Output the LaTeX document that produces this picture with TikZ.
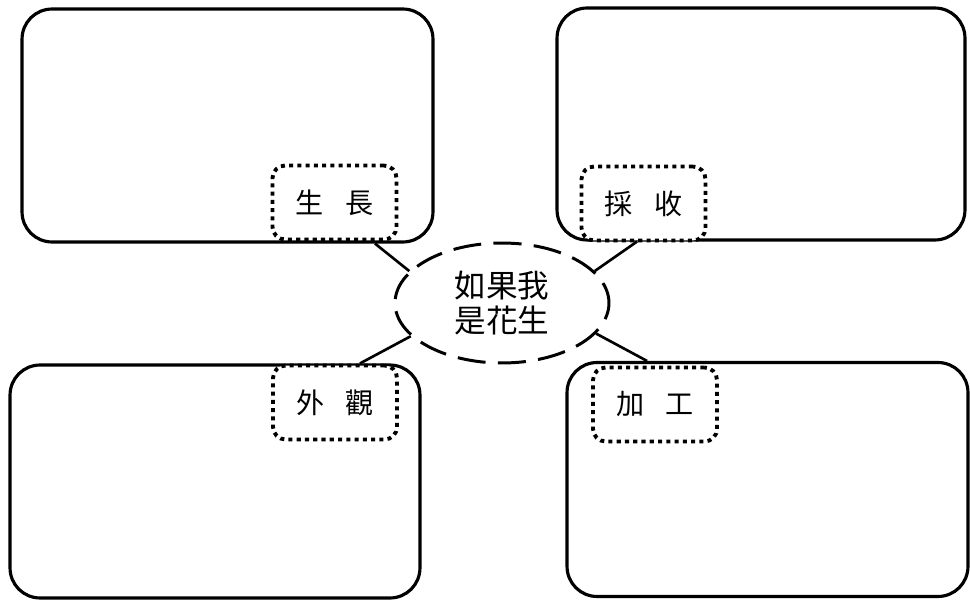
\documentclass[tikz,border=0pt]{standalone}
\usepackage{fontspec}
\setmainfont{Noto Sans CJK TC}
\usetikzlibrary{shapes.geometric}

\begin{document}
\begin{tikzpicture}[x=0.02cm, y=-0.02cm,
    bigbox/.style={draw, line width=1.8pt, rounded corners=0.6cm},
    tagbox/.style={draw, fill=white, line width=2.2pt, dash pattern=on 2.3pt off 2.4pt,
        rounded corners=0.25cm, minimum width=2.48cm, minimum height=1.48cm,
        font=\fontsize{16}{16}\selectfont, inner sep=0pt},
    link/.style={line width=1.5pt}]
    \useasboundingbox (0,0) rectangle (970,601);

    \node[bigbox, minimum width=8.22cm, minimum height=4.66cm](grow) at (227.5, 125.5) {};
    \node[bigbox, minimum width=8.16cm, minimum height=4.64cm](harvest) at (761, 124) {};
    \node[bigbox, minimum width=8.2cm, minimum height=4.66cm](look) at (215, 481.5) {};
    \node[bigbox, minimum width=8.02cm, minimum height=4.68cm](process) at (767.5, 479.5) {};

    \node[tagbox](growtag) at (334.5, 202.5) {生\hspace{0.75em}長};
    \node[tagbox](harvesttag) at (643.5, 203.5) {採\hspace{0.75em}收};
    \node[tagbox](looktag) at (335, 402.5) {外\hspace{0.75em}觀};
    \node[tagbox](processtag) at (655, 404.5) {加\hspace{0.75em}工};

    \node[ellipse, draw, line width=1.7pt, dash pattern=on 16pt off 7pt, dash phase=4pt,
        minimum width=4.28cm, minimum height=2.4cm, align=center,
        font=\fontsize{18}{20}\selectfont](peanut) at (502, 303) {如果我\\是花生};

    \draw [link] ([xshift=2.95cm]grow.south)--(peanut.161);
    \draw [link] ([xshift=-2.48cm]harvest.south)--(peanut.19);
    \draw [link] ([xshift=2.9cm]look.north)--(peanut.200);
    \draw [link] ([xshift=-2.41cm]process.north)--(peanut.342);
\end{tikzpicture}
\end{document}
